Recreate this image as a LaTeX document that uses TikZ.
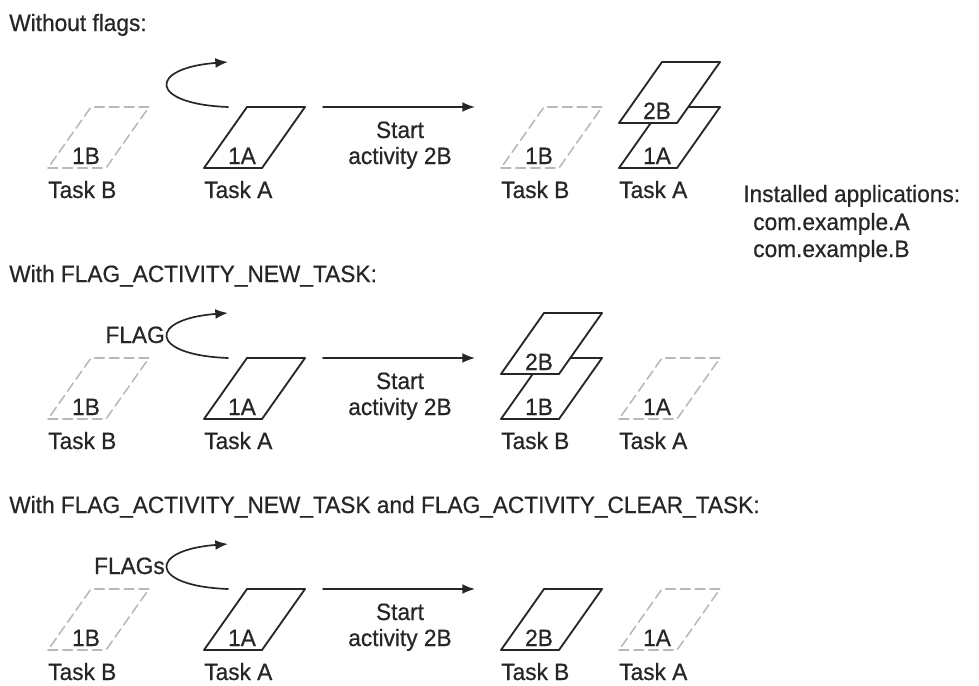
\documentclass[tikz,border=0pt]{standalone}
\usepackage{fontspec}
\setmainfont{Liberation Sans}[FakeStretch=0.96, FakeBold=0.6]
\usetikzlibrary{arrows.meta,calc}

\tikzset{
    card/.style={draw=black!85, line width=1.3pt, line join=round, fill=white},
    ghost/.style={draw=black!28, line width=1.1pt, dash pattern=on 7pt off 3.5pt},
    txt/.style={inner sep=0pt, anchor=base, text=black!85},
    flow/.style={draw=black!85, line width=1.2pt, -{Latex[length=9pt,width=7pt]}}
}

% one activity card: name, bottom-left x, bottom y, label, style
\newcommand{\taskcard}[5]{%
    \coordinate (#1) at (#2,#3);
    \path[#5] (#1) -- ++(58,0) -- ++(43,-61) -- ++(-58,0) -- cycle;
    \node[txt] (#1-l) at ($(#1)+(38,-4)$) {#4};
}

\begin{document}
\begin{tikzpicture}[x=0.025cm, y=-0.025cm, line cap=round,
    font=\fontsize{16.8pt}{20pt}\selectfont]

    \useasboundingbox (0,0) rectangle (979,685);

    % 1. Left half, the same in every row
    \foreach \row/\y in {1/168, 2/419, 3/650} {
        \taskcard{lB\row}{48}{\y}{1B}{ghost}
        \taskcard{lA\row}{204}{\y}{1A}{card}
        \node[txt, anchor=base west] (lBt\row) at ($(lB\row)+(0,30)$) {Task B};
        \node[txt, anchor=base west] (lAt\row) at ($(lA\row)+(0,30)$) {Task A};

        % loop back arrow above task A
        \coordinate (lo\row) at (228,{\y-61});
        \coordinate (hi\row) at (228,{\y-106});
        \draw[flow] (lo\row) .. controls (148,{\y-64}) and (148,{\y-100}) .. (hi\row);

        % start activity arrow
        \coordinate (ss\row) at (323,{\y-61});
        \coordinate (se\row) at (475,{\y-61});
        \draw[flow] (ss\row) -- (se\row);
        \node[txt] (st\row) at (400,{\y-30}) {Start};
        \node[txt] (ac\row) at (400,{\y-4}) {activity 2B};
    }

    % 2. Row titles
    \node[txt, anchor=base west] (t1) at (9,31) {Without flags:};
    \node[txt, anchor=base west] (t2) at (9,282) {With FLAG\_ACTIVITY\_NEW\_TASK:};
    \node[txt, anchor=base west] (t3) at (9,513)
        {With FLAG\_ACTIVITY\_NEW\_TASK and FLAG\_ACTIVITY\_CLEAR\_TASK:};

    % 3. Row 1 result
    \taskcard{rB1}{501}{168}{1B}{ghost}
    \taskcard{rA1}{619}{168}{1A}{card}
    \taskcard{rC1}{619}{123}{2B}{card}
    \node[txt, anchor=base west] (rBt1) at ($(rB1)+(0,30)$) {Task B};
    \node[txt, anchor=base west] (rAt1) at ($(rA1)+(0,30)$) {Task A};

    \node[txt, anchor=base west] (apps) at (743,202) {Installed applications:};
    \node[txt, anchor=base west] (appA) at (753,230) {com.example.A};
    \node[txt, anchor=base west] (appB) at (753,257) {com.example.B};

    % 4. Row 2 result
    \node[txt, anchor=base east] (fl2) at (165,343) {FLAG};
    \taskcard{rB2}{501}{419}{1B}{card}
    \taskcard{rC2}{501}{374}{2B}{card}
    \taskcard{rA2}{619}{419}{1A}{ghost}
    \node[txt, anchor=base west] (rBt2) at ($(rB2)+(0,30)$) {Task B};
    \node[txt, anchor=base west] (rAt2) at ($(rA2)+(0,30)$) {Task A};

    % 5. Row 3 result
    \node[txt, anchor=base east] (fl3) at (165,574) {FLAGs};
    \taskcard{rC3}{501}{650}{2B}{card}
    \taskcard{rA3}{619}{650}{1A}{ghost}
    \node[txt, anchor=base west] (rBt3) at ($(rC3)+(0,30)$) {Task B};
    \node[txt, anchor=base west] (rAt3) at ($(rA3)+(0,30)$) {Task A};

\end{tikzpicture}
\end{document}
